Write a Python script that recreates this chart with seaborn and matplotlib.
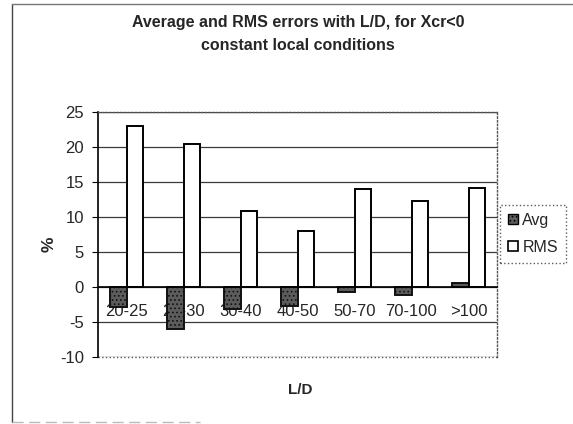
import matplotlib
matplotlib.use("Agg")
import matplotlib.pyplot as plt
import seaborn as sns
import pandas as pd
from matplotlib.patches import Patch
from matplotlib.lines import Line2D

categories = ["20-25", "25-30", "30-40", "40-50", "50-70", "70-100", ">100"]
avg_err = [-2.8, -6.0, -3.2, -2.7, -0.7, -1.1, 0.6]
rms_err = [23.0, 20.5, 10.9, 8.0, 14.0, 12.3, 14.2]
y_ticks = [-10, -5, 0, 5, 10, 15, 20, 25]

df = pd.DataFrame({
    "L/D": categories * 2,
    "value": avg_err + rms_err,
    "series": ["Avg"] * len(categories) + ["RMS"] * len(categories),
})

sns.set_style("white")
plt.rcParams["font.family"] = ["Liberation Sans", "DejaVu Sans"]
plt.rcParams["hatch.color"] = "#222222"
plt.rcParams["hatch.linewidth"] = 0.7

W, H = 573, 424
fig = plt.figure(figsize=(W / 100, H / 100), dpi=100)
ax = fig.add_axes([98 / W, 1 - 357 / H, (497 - 98) / W, (357 - 112) / H])

avg_color = "#5c5c5c"
sns.barplot(data=df, x="L/D", y="value", hue="series", order=categories,
            hue_order=["Avg", "RMS"], palette=[avg_color, "white"],
            width=0.58, gap=0, edgecolor="black", linewidth=1.4,
            saturation=1, legend=False, ax=ax)
for bar in ax.patches[:len(categories)]:
    bar.set_hatch("....")
    bar.set_edgecolor("#111111")

ax.set_ylim(-10, 25)
ax.set_xlim(-0.5, len(categories) - 0.5)
ax.set_yticks(y_ticks)
ax.set_yticklabels([str(t) for t in y_ticks], fontsize=12)
ax.grid(axis="y", color="#3a3a3a", linewidth=0.9)
ax.set_axisbelow(True)

# category axis sits on the zero line, ticks between categories
ax.spines["bottom"].set_position(("data", 0))
ax.spines["bottom"].set_color("black")
ax.spines["bottom"].set_linewidth(1.2)
ax.set_xticks(range(len(categories)))
ax.set_xticklabels(categories, fontsize=12)
ax.set_xticks([i + 0.5 for i in range(-1, len(categories))], minor=True)
ax.tick_params(axis="x", which="major", length=0, pad=12)
ax.tick_params(axis="x", which="minor", length=4, width=0.8, color="black", direction="out")
ax.tick_params(axis="y", which="major", length=4, width=0.8, color="black", direction="out", pad=6, left=True)

ax.spines["left"].set_color("black")
ax.spines["left"].set_linewidth(1.2)
for s in ["top", "right"]:
    ax.spines[s].set_color("#555555")
    ax.spines[s].set_linestyle(":")
    ax.spines[s].set_linewidth(1.0)
# dotted lower edge of the plot area
ax.plot([0, 1], [0, 0], transform=ax.transAxes, color="#555555", ls=":", lw=1.0, clip_on=False)

ax.set_xlabel("")
ax.set_ylabel("")
fig.text(300 / W, 1 - 390 / H, "L/D", fontsize=11, fontweight="bold", ha="center", va="center")
fig.text(49 / W, 1 - 244 / H, "%", fontsize=12.5, fontweight="bold", ha="center", va="center", rotation=90)

fig.text(298 / W, 1 - 22 / H, "Average and RMS errors with L/D, for Xcr<0",
         fontsize=11.5, fontweight="bold", ha="center", va="center")
fig.text(298 / W, 1 - 45 / H, "constant local conditions",
         fontsize=11.5, fontweight="bold", ha="center", va="center")

handles = [Patch(facecolor=avg_color, edgecolor="black", hatch="....", label="Avg"),
           Patch(facecolor="white", edgecolor="black", lw=1.2, label="RMS")]
leg = fig.legend(handles=handles, loc="upper right", bbox_to_anchor=(566 / W, 1 - 205 / H),
                 fontsize=11.5, frameon=True, fancybox=False, handlelength=0.6, handleheight=0.6,
                 handletextpad=0.3, borderpad=0.5, labelspacing=0.75, borderaxespad=0)
leg.get_frame().set_edgecolor("#333333")
leg.get_frame().set_linestyle(":")
leg.get_frame().set_linewidth(1.0)

# outer chart frame: left edge, top edge and a faint bottom edge
fig.add_artist(Line2D([12 / W, 12 / W], [1 - 422 / H, 1 - 4 / H], transform=fig.transFigure,
                      color="#444444", lw=1.0))
fig.add_artist(Line2D([12 / W, 1.0], [1 - 4 / H, 1 - 4 / H], transform=fig.transFigure,
                      color="#777777", lw=1.0))
fig.add_artist(Line2D([12 / W, 200 / W], [1 - 422 / H, 1 - 422 / H], transform=fig.transFigure,
                      color="#bbbbbb", lw=1.0, ls=(0, (8, 4))))

fig.savefig("out.png", dpi=100, facecolor="white")
